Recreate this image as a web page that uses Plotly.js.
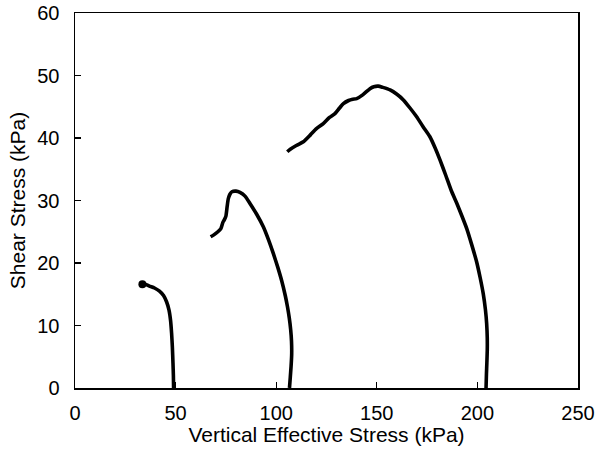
<!DOCTYPE html>
<html>
<head>
<meta charset="utf-8">
<script src="https://cdn.plot.ly/plotly-3.0.1.min.js"></script>
<style>html,body{margin:0;padding:0;background:#fff;}#chart{width:597px;height:454px;}</style>
</head>
<body>
<div id="chart"></div>
<script>
// Test 1 (low stress)
const test1X = [33.5,35,37,39.5,42,44,45.5,46.7,47.5,48,48.4,48.7,48.9,49];
const test1Y = [16.6,16.6,16.3,16.0,15.5,14.8,13.8,12.5,10.8,8.8,6.5,4,2,0];
// Test 2 (mid stress)
const test2X = [67.4,69,71,72.5,73.5,74.2,75,75.6,76.2,77,78,80,82,84.5,87.2,90.3,93.6,96.2,98.6,100.8,102.7,104.5,105.6,106.5,107.2,107.6,107.7,107.4,107,106.6];
const test2Y = [24.2,24.5,25,25.5,26.5,26.9,27.5,29,30.3,31,31.4,31.5,31.3,30.7,29.4,27.8,25.8,23.7,21.5,19.3,17.2,14.8,13,11.2,9.3,7.5,5.5,3.5,1.7,0];
// Test 3 (high stress)
const test3X = [105.5,107,110,113.5,117,120,123.4,126.5,129.2,131.5,133.4,136,138,140,143,146.6,148.5,150.7,153,156.6,160,163.2,166.5,169.8,173,176.4,179,181.4,184.3,187,189.7,192.2,194.7,197.2,199.6,201.4,202.9,204,204.6,204.9,204.9,204.7,204.5,204.3];
const test3Y = [37.8,38.2,38.8,39.4,40.5,41.5,42.3,43.3,43.9,44.8,45.5,46,46.2,46.3,46.9,47.9,48.2,48.3,48.1,47.7,47,46.1,44.8,43.4,41.8,40.2,38.4,36.5,34.0,31.6,29.6,27.6,25.5,22.9,20.2,17.6,15.1,12.5,10.3,8,6,4,2.3,0];

const xTickVals = [0,50,100,150,200,250];
const yTickVals = [0,10,20,30,40,50,60];
const xTitle = 'Vertical Effective Stress (kPa)';
const yTitle = 'Shear Stress (kPa)';

const series = [[test1X,test1Y],[test2X,test2Y],[test3X,test3Y]];
const traces = series.map(([x,y]) => ({
  x: x, y: y, type: 'scatter', mode: 'lines',
  line: {color: '#000', width: 3.6, shape: 'spline', smoothing: 0.6},
  showlegend: false, hoverinfo: 'skip'
}));
// start dot of the first test (drawn from the same data arrays)
traces.push({
  x: [test1X[0]], y: [test1Y[0]], type: 'scatter', mode: 'markers',
  marker: {color: '#000', size: 8, opacity: 1, line: {width: 0}},
  showlegend: false, hoverinfo: 'skip'
});

const font = {family: '"Liberation Sans", Arial, sans-serif', color: '#000'};
const axisCommon = {
  showgrid: false, zeroline: false, showline: true, mirror: true,
  linecolor: '#000', linewidth: 1.5, ticks: 'inside', ticklen: 6, tickwidth: 1.3, tickcolor: '#000',
  tickfont: Object.assign({size: 20}, font), automargin: false, fixedrange: true
};
const layout = {
  width: 597, height: 454,
  margin: {l: 75, r: 19, t: 13, b: 66},
  paper_bgcolor: '#fff', plot_bgcolor: '#fff',
  font: font,
  xaxis: Object.assign({}, axisCommon, {
    range: [0, 250], tickvals: xTickVals, ticktext: xTickVals.map(String),
    ticklabelstandoff: 6,
    title: {text: xTitle, font: Object.assign({size: 21}, font), standoff: 4}
  }),
  yaxis: Object.assign({}, axisCommon, {
    range: [0, 60], tickvals: yTickVals, ticktext: yTickVals.map(String),
    ticklabelstandoff: 10,
    title: {text: yTitle, font: Object.assign({size: 21}, font), standoff: 6}
  })
};
Plotly.newPlot('chart', traces, layout, {staticPlot: true, displayModeBar: false});
</script>
</body>
</html>
